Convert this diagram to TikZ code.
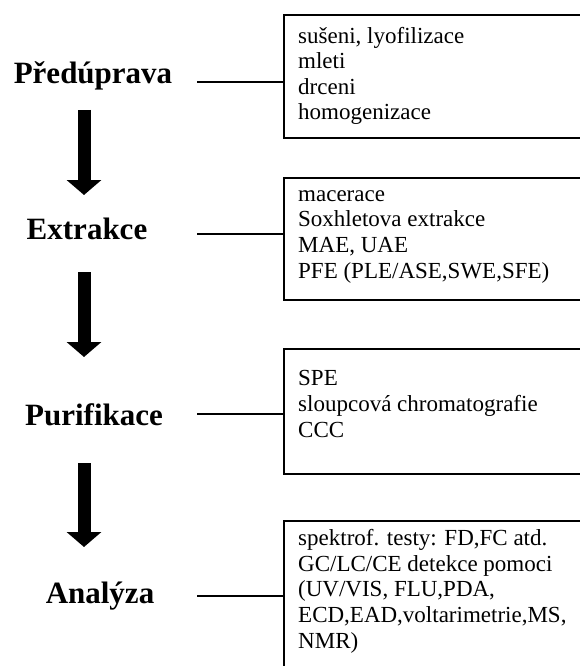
\documentclass[tikz,border=0pt]{standalone}
\usepackage{fontspec}
\setmainfont{Liberation Serif}
\usetikzlibrary{arrows.meta}
\begin{document}
\begin{tikzpicture}[x=1pt,y=-1pt,
  stage/.style={font=\fontsize{31}{36}\selectfont\bfseries, anchor=base, inner sep=0pt},
  items/.style={font=\fontsize{23}{25.6}\selectfont, align=left, anchor=base west, inner sep=0pt},
  box/.style={draw, line width=1.8pt, anchor=north west, minimum width=400pt, inner sep=0pt},
  link/.style={line width=1.8pt},
  bigarrow/.style={line width=13pt, -{Triangle[width=34pt,length=15pt]}}]
\useasboundingbox (0,0) rectangle (580,666);
\clip (0,0) rectangle (580,666);
% boxes
\node[box, minimum height=123pt] (b1) at (283,14) {};
\node[box, minimum height=122pt] (b2) at (283,177) {};
\node[box, minimum height=125pt] (b3) at (283,348) {};
\node[box, minimum height=200pt] (b4) at (283,520) {};
% stage labels
\node[stage] (s1) at (93,84) {Předúprava};
\node[stage] (s2) at (87,239) {Extrakce};
\node[stage] (s3) at (94,425) {Purifikace};
\node[stage] (s4) at (100,603) {Analýza};
% box texts (anchored at the baseline of the last line)
\node[items] (t1) at (298,120) {sušeni, lyofilizace\\mleti\\drceni\\homogenizace};
\node[items] (t2) at (298,278) {macerace\\Soxhletova extrakce\\MAE, UAE\\PFE (PLE/ASE,SWE,SFE)};
\node[items] (t3) at (298,437) {SPE\\sloupcová chromatografie\\CCC};
\node[items] (t4) at (298,648) {spektrof. testy: FD,FC atd.\\GC/LC/CE detekce pomoci\\(UV/VIS, FLU,PDA,\\ECD,EAD,voltarimetrie,MS,\\NMR)};
% connectors
\coordinate (c1) at (197,82);
\coordinate (c2) at (197,234);
\coordinate (c3) at (197,414);
\coordinate (c4) at (197,596);
\draw[link] (c1) -- (c1 -| b1.west);
\draw[link] (c2) -- (c2 -| b2.west);
\draw[link] (c3) -- (c3 -| b3.west);
\draw[link] (c4) -- (c4 -| b4.west);
% arrows
\coordinate (a1s) at (84,110);
\coordinate (a1e) at (84,195);
\coordinate (a2s) at (84,272);
\coordinate (a2e) at (84,357);
\coordinate (a3s) at (84,463);
\coordinate (a3e) at (84,547);
\draw[bigarrow] (a1s) -- (a1e);
\draw[bigarrow] (a2s) -- (a2e);
\draw[bigarrow] (a3s) -- (a3e);
\end{tikzpicture}
\end{document}
